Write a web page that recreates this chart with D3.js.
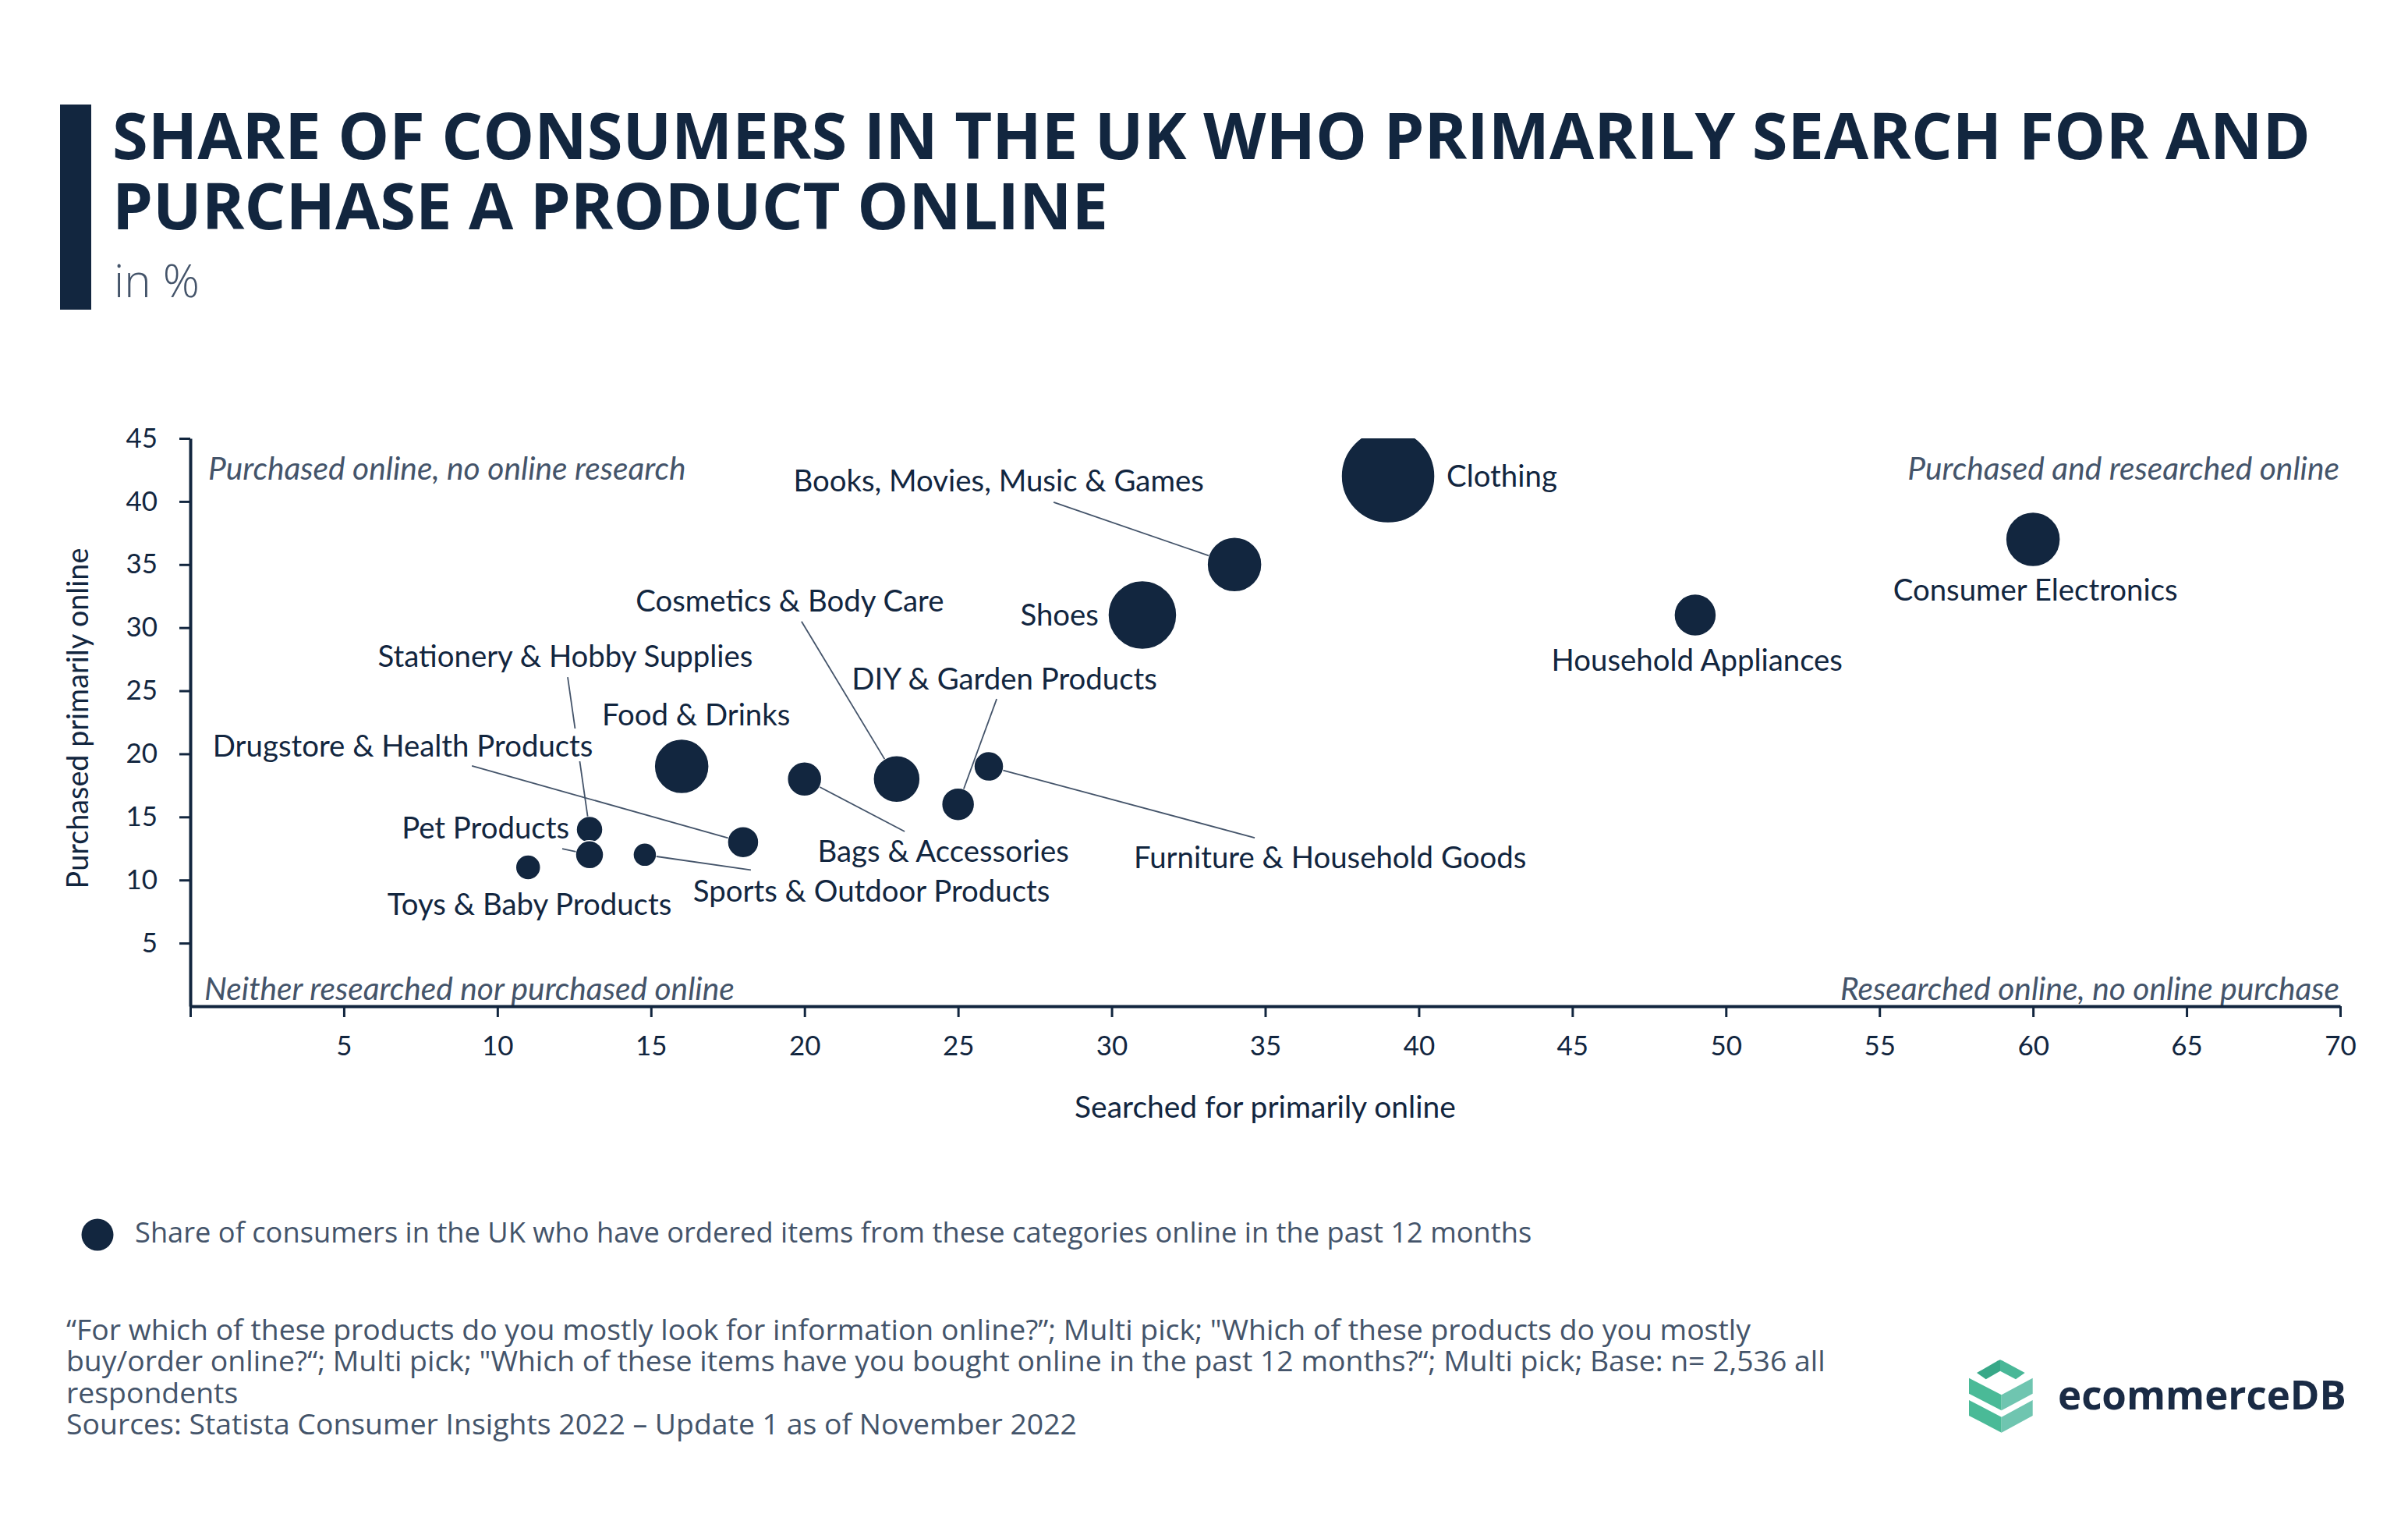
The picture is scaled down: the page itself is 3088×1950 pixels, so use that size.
<!DOCTYPE html>
<html><head><meta charset="utf-8">
<script src="https://cdn.jsdelivr.net/npm/d3@7"></script>
<style>html,body{margin:0;padding:0;background:#fff;} svg{display:block;}</style>
</head><body>
<svg id="chart" width="3088" height="1950"></svg>
<script>
// ---------------- DATA ----------------
const categories = [
  "Clothing", "Books, Movies, Music & Games", "Shoes", "Consumer Electronics",
  "Household Appliances", "Cosmetics & Body Care", "DIY & Garden Products",
  "Furniture & Household Goods", "Bags & Accessories", "Food & Drinks",
  "Drugstore & Health Products", "Stationery & Hobby Supplies", "Pet Products",
  "Sports & Outdoor Products", "Toys & Baby Products"
];
// x: searched for primarily online (%)
const searchedOnline  = [39, 34, 31, 60, 49, 23, 25, 26, 20, 16, 18, 13, 13, 14.8, 11];
// y: purchased primarily online (%)
const purchasedOnline = [42, 35, 31, 37, 31, 18, 16, 19, 18, 19, 13, 14, 12, 12, 11];
// bubble size: ordered items from category online in past 12 months (%)
const orderedShare    = [60, 35, 44, 35, 27, 30, 21, 19, 22, 35, 20, 17, 18, 15, 16];

const xTickValues = [0, 5, 10, 15, 20, 25, 30, 35, 40, 45, 50, 55, 60, 65, 70];
const yTickValues = [5, 10, 15, 20, 25, 30, 35, 40, 45];

const titleLines = ["SHARE OF CONSUMERS IN THE UK WHO PRIMARILY SEARCH FOR AND", "PURCHASE A PRODUCT ONLINE"];
const subtitleText = "in %";
const xAxisTitle = "Searched for primarily online";
const yAxisTitle = "Purchased primarily online";
const quadrantTexts = ["Purchased online, no online research", "Purchased and researched online",
                       "Neither researched nor purchased online", "Researched online, no online purchase"];
const legendText = "Share of consumers in the UK who have ordered items from these categories online in the past 12 months";
const footnoteLines = [
  "\u201CFor which of these products do you mostly look for information online?\u201D; Multi pick; \"Which of these products do you mostly",
  "buy/order online?\u201C; Multi pick; \"Which of these items have you bought online in the past 12 months?\u201C; Multi pick; Base: n= 2,536 all",
  "respondents",
  "Sources: Statista Consumer Insights 2022 \u2013 Update 1 as of November 2022"
];
const brandText = "ecommerceDB";

// ---------------- LAYOUT (label placement, px offsets from bubble centre) ----------------
const labelLayout = {
  "Clothing":                     {anchor: "start",  dx: 75,     dy: 13},
  "Books, Movies, Music & Games": {anchor: "middle", dx: -302.5, dy: -94,   lx: -232,  ly: -80},
  "Shoes":                        {anchor: "end",    dx: -56,    dy: 14},
  "Consumer Electronics":         {anchor: "middle", dx: 3,      dy: 79},
  "Household Appliances":         {anchor: "middle", dx: 2.4,    dy: 72},
  "Cosmetics & Body Care":        {anchor: "middle", dx: -137,   dy: -215,  lx: -122,  ly: -202},
  "DIY & Garden Products":        {anchor: "middle", dx: 59.5,   dy: -147,  lx: 49.5,  ly: -135},
  "Furniture & Household Goods":  {anchor: "middle", dx: 437.6,  dy: 130,   lx: 341,   ly: 91.4},
  "Bags & Accessories":           {anchor: "middle", dx: 178,    dy: 106,   lx: 128.4, ly: 67.2},
  "Food & Drinks":                {anchor: "middle", dx: 18.5,   dy: -52.6},
  "Drugstore & Health Products":  {anchor: "middle", dx: -436.3, dy: -109.7, lx: -347.8, ly: -97.7},
  "Stationery & Hobby Supplies":  {anchor: "middle", dx: -31,    dy: -208.5, lx: -28,   ly: -195.5},
  "Pet Products":                 {anchor: "end",    dx: -26,    dy: -20.8, lx: -35,   ly: -7.8},
  "Sports & Outdoor Products":    {anchor: "middle", dx: 290.7,  dy: 60.2,  lx: 136,   ly: 19.5},
  "Toys & Baby Products":         {anchor: "middle", dx: 1.8,    dy: 60.5}
};

const NAVY = "#12263F", SLATE = "#44546A";
const LABEL_FONT = "Lato, 'Open Sans', sans-serif";
const OPEN = "'Open Sans', sans-serif";

const svg = d3.select("#chart");

function fit(pairs, family, weight, style) {
  const sizes = pairs.map(([s, w]) => {
    const t = svg.append("text").attr("font-family", family).attr("font-weight", weight)
      .attr("font-style", style).attr("font-size", 100).text(s);
    const len = t.node().getComputedTextLength(); t.remove();
    return 100 * w / len;
  });
  return d3.mean(sizes);
}
const labelSize = fit([["Books, Movies, Music & Games", 527], ["Furniture & Household Goods", 503],
                       ["Drugstore & Health Products", 487], ["Stationery & Hobby Supplies", 482]], LABEL_FONT, 400, "normal");
const quadSize = fit([[quadrantTexts[0], 609], [quadrantTexts[2], 681], [quadrantTexts[1], 554], [quadrantTexts[3], 643]], LABEL_FONT, 400, "italic");
const tickSize = fit([["45", 40.5]], LABEL_FONT, 400, "normal");
const titleSize = fit([[titleLines[0], 2819]], OPEN, 700, "normal");
const subSize = fit([[subtitleText, 110]], OPEN, 300, "normal");
const legendSize = fit([[legendText, 1792]], OPEN, 400, "normal");
const footSize = fit([[footnoteLines[0], 2160], [footnoteLines[3], 1297]], OPEN, 400, "normal");
const xTitleSize = fit([[xAxisTitle, 489]], LABEL_FONT, 400, "normal");
const yTitleSize = fit([[yAxisTitle, 437]], LABEL_FONT, 400, "normal");
const brandSize = fit([[brandText, 370]], OPEN, 700, "normal");

// ---------------- HEADER ----------------
svg.append("rect").attr("x", 77).attr("y", 134).attr("width", 40).attr("height", 263).attr("fill", NAVY);
const title = svg.append("text")
  .attr("font-family", OPEN).attr("font-weight", 700).attr("font-size", titleSize).attr("fill", NAVY);
title.selectAll("tspan").data(titleLines).join("tspan")
  .attr("x", 144).attr("y", (d, i) => 204 + i * 90).text(d => d);
svg.append("text").attr("x", 146).attr("y", 381)
  .attr("font-family", OPEN).attr("font-weight", 300).attr("font-size", subSize)
  .attr("fill", SLATE).text(subtitleText);

// ---------------- SCALES ----------------
const x = d3.scaleLinear().domain([0, 70]).range([244, 3001]);
const y = d3.scaleLinear().domain([0, 45]).range([1290, 562]);
const r = d3.scaleLinear().domain([0, 60]).range([0, 60]);

svg.append("clipPath").attr("id", "plotclip").append("rect")
  .attr("x", x(0)).attr("y", y(45)).attr("width", x(70) - x(0)).attr("height", y(0) - y(45));

// quadrant labels
const quadPos = [
  {x: x(0) + 23, y: 615, a: "start"}, {x: x(70) - 1, y: 615, a: "end"},
  {x: x(0) + 18, y: 1282, a: "start"}, {x: x(70) - 1, y: 1282, a: "end"}
];
svg.append("g").selectAll("text").data(quadrantTexts).join("text")
  .attr("x", (d, i) => quadPos[i].x).attr("y", (d, i) => quadPos[i].y)
  .attr("text-anchor", (d, i) => quadPos[i].a)
  .attr("font-family", LABEL_FONT).attr("font-style", "italic").attr("font-size", quadSize)
  .attr("fill", SLATE).text(d => d);

// ---------------- AXES ----------------
const yAxis = svg.append("g").attr("transform", `translate(${x(0)},0)`)
  .call(d3.axisLeft(y).tickValues(yTickValues).tickSize(14).tickSizeOuter(0).tickPadding(28));
const xAxis = svg.append("g").attr("transform", `translate(0,${y(0)})`)
  .call(d3.axisBottom(x).tickValues(xTickValues).tickSize(14).tickSizeOuter(0)
    .tickFormat(d => d === 0 ? "" : d));
[xAxis, yAxis].forEach(g => {
  g.select(".domain").attr("stroke", NAVY).attr("stroke-width", 4);
  g.selectAll(".tick line").attr("stroke", NAVY).attr("stroke-width", 3);
  g.selectAll(".tick text").attr("fill", NAVY).attr("font-family", LABEL_FONT).attr("font-size", tickSize);
});
xAxis.selectAll(".tick text").attr("y", 63).attr("dy", 0);

svg.append("text").attr("x", (x(0) + x(70)) / 2).attr("y", 1433).attr("text-anchor", "middle")
  .attr("font-family", LABEL_FONT).attr("font-size", xTitleSize).attr("fill", NAVY).text(xAxisTitle);
svg.append("text").attr("transform", `translate(113,${(y(0) + y(45)) / 2 - 5}) rotate(-90)`)
  .attr("text-anchor", "middle")
  .attr("font-family", LABEL_FONT).attr("font-size", yTitleSize).attr("fill", NAVY).text(yAxisTitle);

// ---------------- BUBBLES ----------------
const data = categories.map((c, i) => ({
  name: c, sx: searchedOnline[i], py: purchasedOnline[i], size: orderedShare[i]
}));
svg.append("g").attr("clip-path", "url(#plotclip)")
  .selectAll("circle").data(data).join("circle")
  .attr("cx", d => x(d.sx)).attr("cy", d => y(d.py)).attr("r", d => r(d.size))
  .attr("fill", NAVY).attr("stroke", "#fff").attr("stroke-width", 1.5);

// leader lines
const leaders = data.filter(d => labelLayout[d.name].lx !== undefined);
svg.append("g").selectAll("line").data(leaders).join("line")
  .each(function (d) {
    const L = labelLayout[d.name];
    const cx = x(d.sx), cy = y(d.py), rad = r(d.size);
    const len = Math.hypot(L.lx, L.ly);
    d3.select(this).attr("x1", cx + L.lx).attr("y1", cy + L.ly)
      .attr("x2", cx + L.lx / len * rad).attr("y2", cy + L.ly / len * rad);
  })
  .attr("stroke", SLATE).attr("stroke-width", 1.8);

// labels with white backing
const lab = svg.append("g").selectAll("g").data(data).join("g");
const labText = lab.append("text")
  .attr("x", d => x(d.sx) + labelLayout[d.name].dx)
  .attr("y", d => y(d.py) + labelLayout[d.name].dy)
  .attr("text-anchor", d => labelLayout[d.name].anchor)
  .attr("font-family", LABEL_FONT).attr("font-size", labelSize).attr("fill", NAVY)
  .text(d => d.name);
labText.each(function () {
  const b = this.getBBox();
  d3.select(this.parentNode).insert("rect", "text")
    .attr("x", b.x - 2).attr("y", b.y + 2).attr("width", b.width + 4).attr("height", b.height - 4)
    .attr("fill", "#fff");
});

// ---------------- LEGEND ----------------
svg.append("circle").attr("cx", 125).attr("cy", 1583).attr("r", 20.5).attr("fill", NAVY);
svg.append("text").attr("x", 173).attr("y", 1593)
  .attr("font-family", OPEN).attr("font-size", legendSize).attr("fill", SLATE).text(legendText);

// ---------------- FOOTNOTE (one text block) ----------------
const foot = svg.append("text")
  .attr("font-family", OPEN).attr("font-size", footSize).attr("fill", SLATE);
foot.selectAll("tspan").data(footnoteLines).join("tspan")
  .attr("x", 85).attr("y", (d, i) => 1718 + i * 40.3).text(d => d);

// ---------------- BRAND ----------------
const logo = svg.append("g");
const polys = [
  {p: [[2535,1760],[2562,1744.5],[2565,1743.3],[2565,1757.7],[2546.7,1768.3]], c: "#38A888"},
  {p: [[2565,1743.3],[2568,1744.5],[2596.7,1760],[2585,1768.3],[2565,1757.7]], c: "#49B797"},
  {p: [[2525,1766.7],[2566.7,1788.3],[2566.7,1808.3],[2525,1786.7]], c: "#4ABA97"},
  {p: [[2566.7,1788.3],[2606.7,1766.7],[2606.7,1786.7],[2566.7,1808.3]], c: "#6FC5B0"},
  {p: [[2525,1795],[2566.7,1816.7],[2566.7,1836.7],[2525,1815]], c: "#4ABA97"},
  {p: [[2566.7,1816.7],[2606.7,1795],[2606.7,1815],[2566.7,1836.7]], c: "#6FC5B0"}
];
logo.selectAll("path").data(polys).join("path")
  .attr("d", d => "M" + d.p.map(q => q.join(",")).join("L") + "Z").attr("fill", d => d.c);
svg.append("text").attr("x", 2639).attr("y", 1807)
  .attr("font-family", OPEN).attr("font-weight", 700).attr("font-size", brandSize)
  .attr("fill", "#1A2B45").text(brandText);
</script>
</body></html>
